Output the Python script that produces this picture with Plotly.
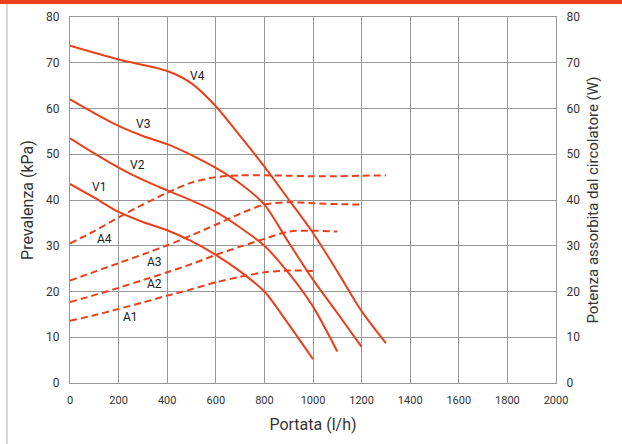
import plotly.graph_objects as go

# Curve data (portata l/h -> prevalenza kPa / potenza W)
v1_x = [0, 100, 200, 300, 400, 500, 600, 700, 800, 900, 1000]
v1_y = [43.5, 40.5, 37.4, 35.2, 33.4, 31.0, 28.0, 24.4, 20.0, 12.8, 5.2]

v2_x = [0, 100, 200, 300, 400, 500, 600, 700, 800, 900, 1000, 1100]
v2_y = [53.5, 50.2, 47.1, 44.4, 42.1, 39.9, 37.4, 34.0, 30.0, 24.0, 16.7, 6.9]

v3_x = [0, 100, 200, 300, 400, 500, 600, 700, 800, 900, 1000, 1100, 1200]
v3_y = [62.0, 59.0, 56.2, 54.0, 52.2, 49.8, 47.0, 43.6, 39.0, 30.7, 22.6, 15.3, 7.9]

v4_x = [0, 200, 400, 500, 600, 700, 800, 900, 1000, 1100, 1200, 1300]
v4_y = [73.7, 70.7, 68.2, 65.5, 60.5, 54.0, 47.3, 40.1, 32.8, 24.4, 15.7, 8.7]

a1_x = [0, 100, 200, 300, 400, 500, 600, 700, 800, 900, 1000]
a1_y = [13.6, 14.8, 16.2, 17.6, 19.1, 20.5, 22.0, 23.2, 24.2, 24.6, 24.5]

a2_x = [0, 100, 200, 300, 400, 500, 600, 700, 800, 900, 1000, 1100]
a2_y = [17.7, 19.2, 20.8, 22.5, 24.2, 26.0, 28.0, 29.8, 31.5, 33.1, 33.3, 33.1]

a3_x = [0, 100, 200, 300, 400, 500, 600, 700, 800, 900, 1000, 1100, 1200]
a3_y = [22.4, 24.3, 26.2, 28.1, 30.1, 32.3, 34.6, 37.0, 39.0, 39.5, 39.3, 39.1, 39.0]

a4_x = [0, 100, 200, 300, 400, 500, 600, 700, 800, 900, 1000, 1100, 1200, 1300]
a4_y = [30.5, 33.2, 36.2, 39.0, 41.6, 43.8, 45.0, 45.4, 45.4, 45.3, 45.2, 45.2, 45.3, 45.4]

labels = ["V1", "V2", "V3", "V4", "A1", "A2", "A3", "A4"]
label_x = [120, 278, 301, 526, 249, 348, 348, 143]
label_y = [42.8, 47.7, 56.6, 67.0, 14.4, 21.6, 26.4, 31.5]

RED = "#e8401c"
GRID = "#979797"
TEXT = "#333333"
FONT = "Roboto"

fig = go.Figure()

for xs, ys in [(v1_x, v1_y), (v2_x, v2_y), (v3_x, v3_y), (v4_x, v4_y)]:
    fig.add_trace(go.Scatter(x=xs, y=ys, mode="lines",
                             line=dict(color=RED, width=2, shape="spline", smoothing=0.8),
                             hoverinfo="skip"))

for xs, ys in [(a1_x, a1_y), (a2_x, a2_y), (a3_x, a3_y), (a4_x, a4_y)]:
    fig.add_trace(go.Scatter(x=xs, y=ys, mode="lines",
                             line=dict(color=RED, width=2, dash="7px,4px", shape="spline", smoothing=0.8),
                             hoverinfo="skip"))

# invisible trace so the right-hand axis gets drawn
fig.add_trace(go.Scatter(x=[0], y=[0], yaxis="y2", mode="markers",
                         marker=dict(opacity=0), hoverinfo="skip"))

for t, lx, ly in zip(labels, label_x, label_y):
    fig.add_annotation(x=lx, y=ly, text=t, showarrow=False,
                       font=dict(family=FONT, size=12, color="#222222"))

# page decoration: red top bar and light left rule
W, H = 622, 444
ml, mr, mt, mb = 70, 66, 17, 61
pw, ph = W - ml - mr, H - mt - mb
fig.add_shape(type="rect", xref="paper", yref="paper",
              x0=-ml / pw, x1=(W - ml) / pw,
              y0=(H - mb - 4) / ph, y1=(H - mb) / ph,
              fillcolor=RED, line=dict(width=0), layer="above")
fig.add_shape(type="line", xref="paper", yref="paper",
              x0=(7 - ml) / pw, x1=(7 - ml) / pw,
              y0=-mb / ph, y1=(H - mb - 4) / ph,
              line=dict(color="#cccccc", width=1.5))

axis_common = dict(showgrid=True, gridcolor=GRID, gridwidth=1.2, automargin=False,
                   zeroline=False, showline=True, linecolor=GRID, linewidth=1.2,
                   tickfont=dict(family=FONT, size=12, color=TEXT),
                   ticks="outside", ticklen=7, tickcolor="rgba(0,0,0,0)")

fig.update_layout(
    width=W, height=H,
    margin=dict(l=ml, r=mr, t=mt, b=mb),
    paper_bgcolor="white", plot_bgcolor="white",
    showlegend=False,
    font=dict(family=FONT, color=TEXT),
    xaxis=dict(range=[0, 2000], dtick=200, mirror=True,
               title=dict(text="Portata (l/h)", font=dict(family=FONT, size=16, color=TEXT), standoff=12),
               **{**axis_common, "tickfont": dict(family=FONT, size=11, color=TEXT)}),
    yaxis=dict(range=[0, 80], dtick=10,
               title=dict(text="Prevalenza (kPa)", font=dict(family=FONT, size=16, color=TEXT), standoff=8),
               **axis_common),
    yaxis2=dict(range=[0, 80], dtick=10, overlaying="y", side="right",
                title=dict(text="Potenza assorbita dal circolatore (W)",
                           font=dict(family=FONT, size=15, color=TEXT), standoff=8),
                **axis_common),
)

fig.write_html("out.html", config={"displayModeBar": False},
               post_script="document.body.style.margin='0';")
